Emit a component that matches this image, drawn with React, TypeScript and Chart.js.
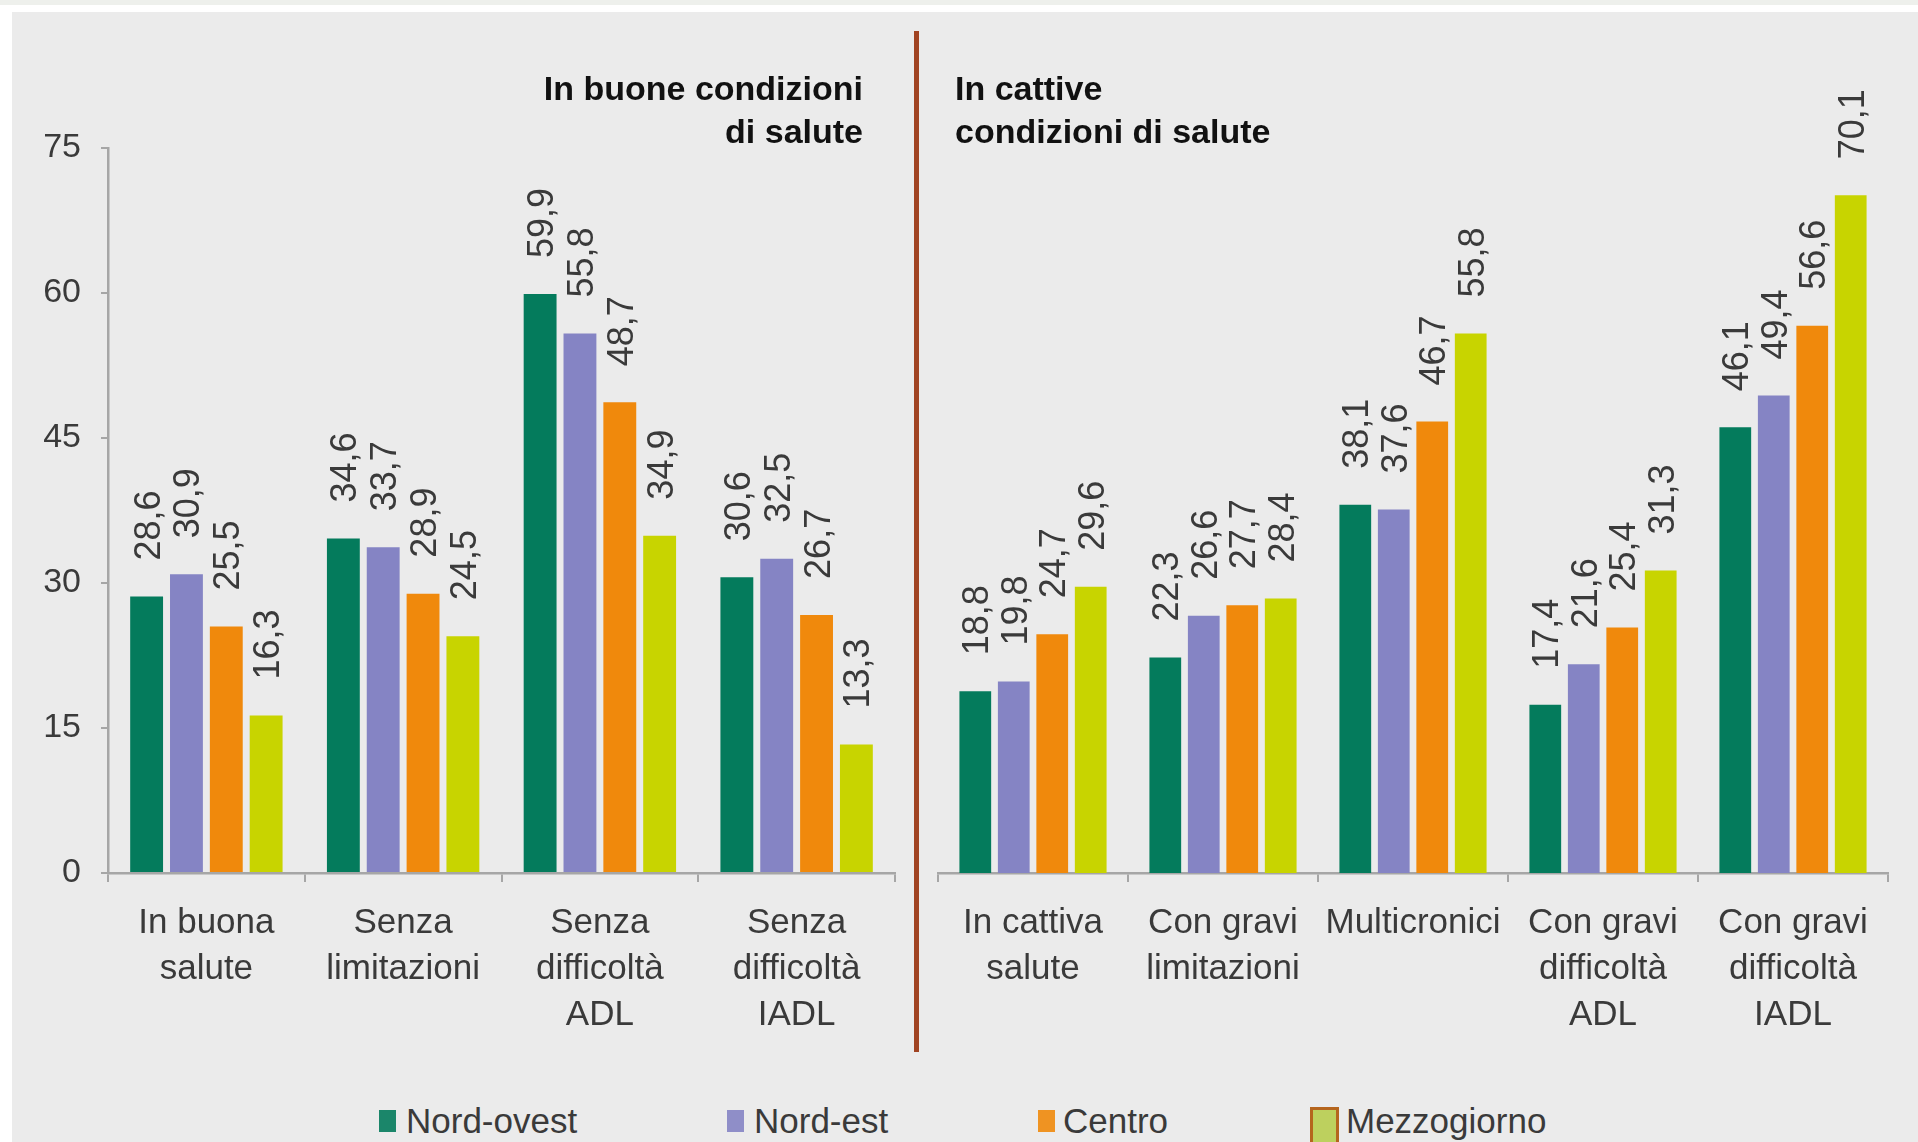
import React, { useEffect, useRef } from "react";
import { Chart, registerables } from "chart.js";

Chart.register(...registerables);

// ---------- data ----------
const seriesNames = ["Nord-ovest", "Nord-est", "Centro", "Mezzogiorno"];
const seriesColors = ["#047b5c", "#8584c4", "#f0890c", "#c8d400"];

const goodTitle = ["In buone condizioni", "di salute"];
const badTitle = ["In cattive", "condizioni di salute"];

const goodCategories = [
  ["In buona", "salute"],
  ["Senza", "limitazioni"],
  ["Senza", "difficoltà", "ADL"],
  ["Senza", "difficoltà", "IADL"],
];
const goodNordOvest = [28.6, 34.6, 59.9, 30.6];
const goodNordEst = [30.9, 33.7, 55.8, 32.5];
const goodCentro = [25.5, 28.9, 48.7, 26.7];
const goodMezzogiorno = [16.3, 24.5, 34.9, 13.3];

const badCategories = [
  ["In cattiva", "salute"],
  ["Con gravi", "limitazioni"],
  ["Multicronici"],
  ["Con gravi", "difficoltà", "ADL"],
  ["Con gravi", "difficoltà", "IADL"],
];
const badNordOvest = [18.8, 22.3, 38.1, 17.4, 46.1];
const badNordEst = [19.8, 26.6, 37.6, 21.6, 49.4];
const badCentro = [24.7, 27.7, 46.7, 25.4, 56.6];
const badMezzogiorno = [29.6, 28.4, 55.8, 31.3, 70.1];

const yMin = 0;
const yMax = 75;
const yStep = 15;

// ---------- style ----------
const FONT = "'Liberation Sans', Arial, Helvetica, sans-serif";
const TEXT = "#3a3a3a";
const AXIS = "#a6a6a6";
const CANVAS_H = 1100;
const PLOT_TOP = 148;
const PLOT_BOTTOM = 873;

const valueLabels = {
  id: "valueLabels",
  afterDatasetsDraw(chart: any) {
    const ctx = chart.ctx;
    const size = 36;
    ctx.save();
    ctx.font = `${size}px ${FONT}`;
    ctx.fillStyle = TEXT;
    ctx.textAlign = "left";
    ctx.textBaseline = "alphabetic";
    chart.data.datasets.forEach((ds: any, di: number) => {
      const meta = chart.getDatasetMeta(di);
      meta.data.forEach((bar: any, i: number) => {
        const v = ds.data[i];
        const txt = Number(v).toFixed(1).replace(".", ",");
        ctx.save();
        ctx.translate(bar.x, bar.y - 36);
        ctx.rotate(-Math.PI / 2);
        ctx.fillText(txt, 0, size * 0.36);
        ctx.restore();
      });
    });
    ctx.restore();
  },
};

function buildDatasets(values: number[][]) {
  return values.map((data, i) => ({
    label: seriesNames[i],
    data,
    backgroundColor: seriesColors[i],
    borderWidth: 0,
    categoryPercentage: 0.81,
    barPercentage: 0.825,
  }));
}

function makeConfig(
  categories: string[][],
  values: number[][],
  showY: boolean,
  padding: { left: number; right: number }
): any {
  return {
    type: "bar",
    data: { labels: categories, datasets: buildDatasets(values) },
    plugins: [valueLabels],
    options: {
      animation: false,
      responsive: false,
      devicePixelRatio: 1,
      layout: {
        padding: { top: PLOT_TOP, bottom: 0, left: padding.left, right: padding.right },
      },
      plugins: {
        legend: { display: false },
        tooltip: { enabled: false },
        title: { display: false },
      },
      scales: {
        x: {
          offset: true,
          grid: {
            display: true,
            offset: true,
            drawOnChartArea: false,
            drawTicks: true,
            tickLength: 9,
            color: AXIS,
            lineWidth: 2,
          },
          border: { display: true, color: AXIS, width: 2.5 },
          ticks: {
            autoSkip: false,
            maxRotation: 0,
            minRotation: 0,
            padding: 18,
            color: TEXT,
            font: { family: FONT, size: 35, lineHeight: 1.314 },
          },
          afterFit: (scale: any) => {
            scale.height = CANVAS_H - PLOT_BOTTOM;
          },
        },
        y: {
          display: showY,
          min: yMin,
          max: yMax,
          grid: {
            display: true,
            drawOnChartArea: false,
            drawTicks: true,
            tickLength: 7,
            color: AXIS,
            lineWidth: 2,
          },
          border: { display: true, color: AXIS, width: 2.5 },
          ticks: {
            stepSize: yStep,
            padding: 20,
            color: TEXT,
            font: { family: FONT, size: 34 },
          },
          afterFit: (scale: any) => {
            scale.width = showY ? 108 : 0;
          },
        },
      },
    },
  };
}

function ChartCanvas(props: {
  left: number;
  width: number;
  config: () => any;
}) {
  const ref = useRef<HTMLCanvasElement | null>(null);
  useEffect(() => {
    if (!ref.current) return;
    const chart = new Chart(ref.current, props.config());
    return () => chart.destroy();
  }, []);
  return (
    <canvas
      ref={ref}
      width={props.width}
      height={CANVAS_H}
      style={{
        position: "absolute",
        left: props.left,
        top: 0,
        width: props.width,
        height: CANVAS_H,
      }}
    />
  );
}

const legendItems = [
  { left: 379, textLeft: 406 },
  { left: 727, textLeft: 754 },
  { left: 1038, textLeft: 1063 },
  { left: 1310, textLeft: 1346 },
];

export default function App() {
  useEffect(() => {
    document.body.style.margin = "0";
    document.body.style.background = "#ffffff";
  }, []);

  const titleStyle: React.CSSProperties = {
    position: "absolute",
    top: 67,
    fontFamily: FONT,
    fontWeight: "bold",
    fontSize: 34,
    lineHeight: "43px",
    color: "#111",
    whiteSpace: "nowrap",
  };

  return (
    <div
      style={{
        position: "absolute",
        left: 0,
        top: 0,
        width: 1918,
        height: 1142,
        overflow: "hidden",
        background: "#ffffff",
      }}
    >
      <div style={{ position: "absolute", left: 0, top: 0, width: 1918, height: 5, background: "#eef0ec" }} />
      <div style={{ position: "absolute", left: 12, top: 12, right: 0, bottom: 0, background: "#ebebeb" }} />

      <ChartCanvas
        left={0}
        width={910}
        config={() =>
          makeConfig(
            goodCategories,
            [goodNordOvest, goodNordEst, goodCentro, goodMezzogiorno],
            true,
            { left: 0, right: 15 }
          )
        }
      />
      <ChartCanvas
        left={910}
        width={1008}
        config={() =>
          makeConfig(
            badCategories,
            [badNordOvest, badNordEst, badCentro, badMezzogiorno],
            false,
            { left: 28, right: 30 }
          )
        }
      />

      <div
        style={{
          position: "absolute",
          left: 914,
          top: 31,
          width: 5,
          height: 1021,
          background: "#a04322",
        }}
      />

      <div style={{ ...titleStyle, left: 0, width: 863, textAlign: "right" }}>
        {goodTitle.map((t, i) => (
          <div key={i}>{t}</div>
        ))}
      </div>
      <div style={{ ...titleStyle, left: 955, textAlign: "left" }}>
        {badTitle.map((t, i) => (
          <div key={i}>{t}</div>
        ))}
      </div>

      {seriesNames.map((name, i) => {
        const it = legendItems[i];
        const isLast = i === seriesNames.length - 1;
        return (
          <React.Fragment key={name}>
            {isLast ? (
              <div
                style={{
                  position: "absolute",
                  left: it.left,
                  top: 1107,
                  width: 23,
                  height: 38,
                  background: "#bdd05e",
                  border: "3px solid #b5651d",
                }}
              />
            ) : (
              <div
                style={{
                  position: "absolute",
                  left: it.left,
                  top: 1110,
                  width: 17,
                  height: 22,
                  background: seriesColors[i],
                  opacity: 0.9,
                }}
              />
            )}
            <div
              style={{
                position: "absolute",
                left: it.textLeft,
                top: 1103,
                fontFamily: FONT,
                fontSize: 35,
                lineHeight: "35px",
                color: TEXT,
                whiteSpace: "nowrap",
              }}
            >
              {name}
            </div>
          </React.Fragment>
        );
      })}
    </div>
  );
}
